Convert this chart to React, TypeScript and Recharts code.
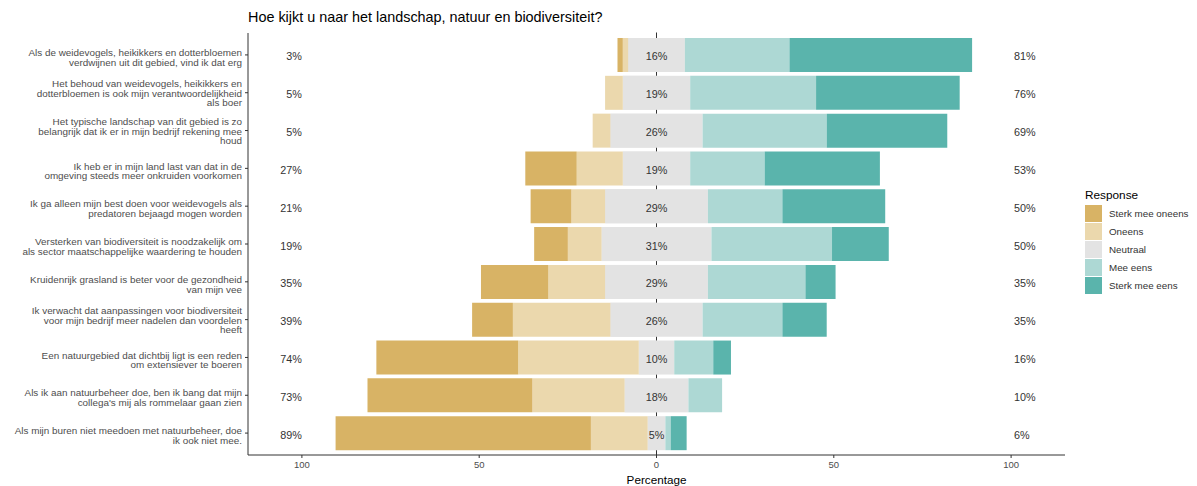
import { BarChart, Bar, XAxis, YAxis, ReferenceDot } from 'recharts'

const statements = [
  'Als de weidevogels, heikikkers en dotterbloemen verdwijnen uit dit gebied, vind ik dat erg',
  'Het behoud van weidevogels, heikikkers en dotterbloemen is ook mijn verantwoordelijkheid als boer',
  'Het typische landschap van dit gebied is zo belangrijk dat ik er in mijn bedrijf rekening mee houd',
  'Ik heb er in mijn land last van dat in de omgeving steeds meer onkruiden voorkomen',
  'Ik ga alleen mijn best doen voor weidevogels als predatoren bejaagd mogen worden',
  'Versterken van biodiversiteit is noodzakelijk om als sector maatschappelijke waardering te houden',
  'Kruidenrijk grasland is beter voor de gezondheid van mijn vee',
  'Ik verwacht dat aanpassingen voor biodiversiteit voor mijn bedrijf meer nadelen dan voordelen heeft',
  'Een natuurgebied dat dichtbij ligt is een reden om extensiever te boeren',
  "Als ik aan natuurbeheer doe, ben ik bang dat mijn collega's mij als rommelaar gaan zien",
  'Als mijn buren niet meedoen met natuurbeheer, doe ik ook niet mee.',
]

const sterkOneens = [1.5, 0, 0, 14.5, 11.5, 9.5, 19, 11.5, 40, 46.5, 72]
const oneens = [1.5, 5, 5, 13, 9.5, 9.5, 16, 27.5, 34, 26, 16]
const neutraal = [16, 19, 26, 19, 29, 31, 29, 26, 10, 18, 5]
const meeEens = [29.5, 35.5, 35, 21, 21, 34, 27.5, 22.5, 11, 9.5, 1.5]
const sterkEens = [51.5, 40.5, 34, 32.5, 29, 16, 8.5, 12.5, 5, 0, 4.5]

const lowLabels = ['3%', '5%', '5%', '27%', '21%', '19%', '35%', '39%', '74%', '73%', '89%']
const midLabels = ['16%', '19%', '26%', '19%', '29%', '31%', '29%', '26%', '10%', '18%', '5%']
const highLabels = ['81%', '76%', '69%', '53%', '50%', '50%', '35%', '35%', '16%', '10%', '6%']

const xTicks = [-100, -50, 0, 50, 100]

const responses = [
  { key: 'sterkOneens', name: 'Sterk mee oneens', color: '#D8B365' },
  { key: 'oneens', name: 'Oneens', color: '#EBD8AD' },
  { key: 'neutraal', name: 'Neutraal', color: '#E3E3E3' },
  { key: 'meeEens', name: 'Mee eens', color: '#ADD8D4' },
  { key: 'sterkEens', name: 'Sterk mee eens', color: '#5AB4AC' },
]

const FONT = '"Liberation Sans", Arial, sans-serif'

// negative side stacks outward from 0: half neutral, oneens, sterk oneens
const data = statements.map((name, i) => ({
  name,
  zero: 0,
  neutraalNeg: -neutraal[i] / 2,
  neutraalPos: neutraal[i] / 2,
  oneens: -oneens[i],
  sterkOneens: -sterkOneens[i],
  meeEens: meeEens[i],
  sterkEens: sterkEens[i],
}))

function wrap(text: string, width = 49) {
  const lines: string[] = []
  let cur = ''
  for (const w of text.split(' ')) {
    if (cur && (cur + ' ' + w).length > width) {
      lines.push(cur)
      cur = w
    } else {
      cur = cur ? cur + ' ' + w : w
    }
  }
  if (cur) lines.push(cur)
  return lines
}

const StatementTick = (props: any) => {
  const { x, y, payload } = props
  const lines = wrap(String(payload.value))
  const lh = 9.7
  const shift = lines.length === 2 ? 2.5 : 0.5
  return (
    <text x={x} y={y} textAnchor="end" fontSize={9.9} fill="#4D4D4D" fontFamily={FONT}>
      {lines.map((l, i) => (
        <tspan key={i} x={x} y={y + (i - (lines.length - 1) / 2) * lh + shift} dominantBaseline="central">
          {l}
        </tspan>
      ))}
    </text>
  )
}

// zero line, drawn first in the stack so the bars cover it and it only shows in the gaps
const ZeroLine = (p: any) => (
  <line x1={p.x} x2={p.x} y1={p.y - 5.5} y2={p.y + p.height + 5.5} stroke="#333333" strokeWidth={1} />
)

// the neutral block is drawn as one rect (mirrored from the positive half) so no seam shows at 0
const NeutralShape = (p: any) => (
  <rect x={p.x - p.width} y={p.y} width={p.width * 2} height={p.height} fill={responses[2].color} />
)

const pctLabel = (text: string, anchor: 'start' | 'middle' | 'end', dx: number) => (p: any) => (
  <text
    x={p.cx + dx}
    y={p.cy + 1.5}
    textAnchor={anchor}
    dominantBaseline="central"
    fontSize={10.8}
    fill="#333333"
    fontFamily={FONT}
  >
    {text}
  </text>
)

export default function App() {
  return (
    <div style={{ position: 'relative', width: 1197, height: 486, fontFamily: FONT }}>
      <style>{'body{margin:0;overflow:hidden}'}</style>
      <div style={{ position: 'absolute', left: 248, top: 9, fontSize: 14.4, color: '#000' }}>
        Hoe kijkt u naar het landschap, natuur en biodiversiteit?
      </div>
      <BarChart
        width={1197}
        height={486}
        data={data}
        layout="vertical"
        stackOffset="sign"
        margin={{ top: 33, right: 132, bottom: 0, left: 0 }}
      >
        <XAxis
          type="number"
          domain={[-115.2, 115.2]}
          ticks={xTicks}
          height={31}
          tickFormatter={(v: number) => String(Math.abs(v))}
          tick={{ fontSize: 9.5, fill: '#4D4D4D', fontFamily: FONT }}
          tickSize={3}
          tickMargin={3}
          axisLine={{ stroke: '#333333' }}
          tickLine={{ stroke: '#333333' }}
          label={{ value: 'Percentage', position: 'insideBottom', offset: 2, fontSize: 11.7, fill: '#000', fontFamily: FONT }}
        />
        <YAxis
          type="category"
          dataKey="name"
          width={248}
          interval={0}
          padding={{ top: 3, bottom: 3 }}
          tick={<StatementTick />}
          tickSize={3}
          tickMargin={3}
          axisLine={{ stroke: '#333333' }}
          tickLine={{ stroke: '#333333' }}
        />
        <Bar dataKey="zero" stackId="a" shape={ZeroLine} barSize={34} isAnimationActive={false} />
        <Bar dataKey="neutraalNeg" stackId="a" fill={responses[2].color} barSize={34} isAnimationActive={false} />
        <Bar dataKey="neutraalPos" stackId="a" fill={responses[2].color} shape={NeutralShape} barSize={34} isAnimationActive={false} />
        <Bar dataKey="oneens" stackId="a" fill={responses[1].color} barSize={34} isAnimationActive={false} />
        <Bar dataKey="sterkOneens" stackId="a" fill={responses[0].color} barSize={34} isAnimationActive={false} />
        <Bar dataKey="meeEens" stackId="a" fill={responses[3].color} barSize={34} isAnimationActive={false} />
        <Bar dataKey="sterkEens" stackId="a" fill={responses[4].color} barSize={34} isAnimationActive={false} />
        {statements.map((s, i) => (
          <ReferenceDot key={'l' + i} x={-100} y={s} r={0} shape={pctLabel(lowLabels[i], 'end', 0)} />
        ))}
        {statements.map((s, i) => (
          <ReferenceDot key={'m' + i} x={0} y={s} r={0} shape={pctLabel(midLabels[i], 'middle', 0)} />
        ))}
        {statements.map((s, i) => (
          <ReferenceDot key={'h' + i} x={100} y={s} r={0} shape={pctLabel(highLabels[i], 'start', 3)} />
        ))}
      </BarChart>
      <div style={{ position: 'absolute', left: 1085, top: 187 }}>
        <div style={{ fontSize: 11.8, color: '#000', height: 17, lineHeight: '17px' }}>Response</div>
        {responses.map((r) => (
          <div key={r.key} style={{ display: 'flex', alignItems: 'center', height: 18 }}>
            <div style={{ width: 17, height: 17, background: r.color }} />
            <span style={{ fontSize: 9.8, color: '#333333', marginLeft: 7 }}>{r.name}</span>
          </div>
        ))}
      </div>
    </div>
  )
}
